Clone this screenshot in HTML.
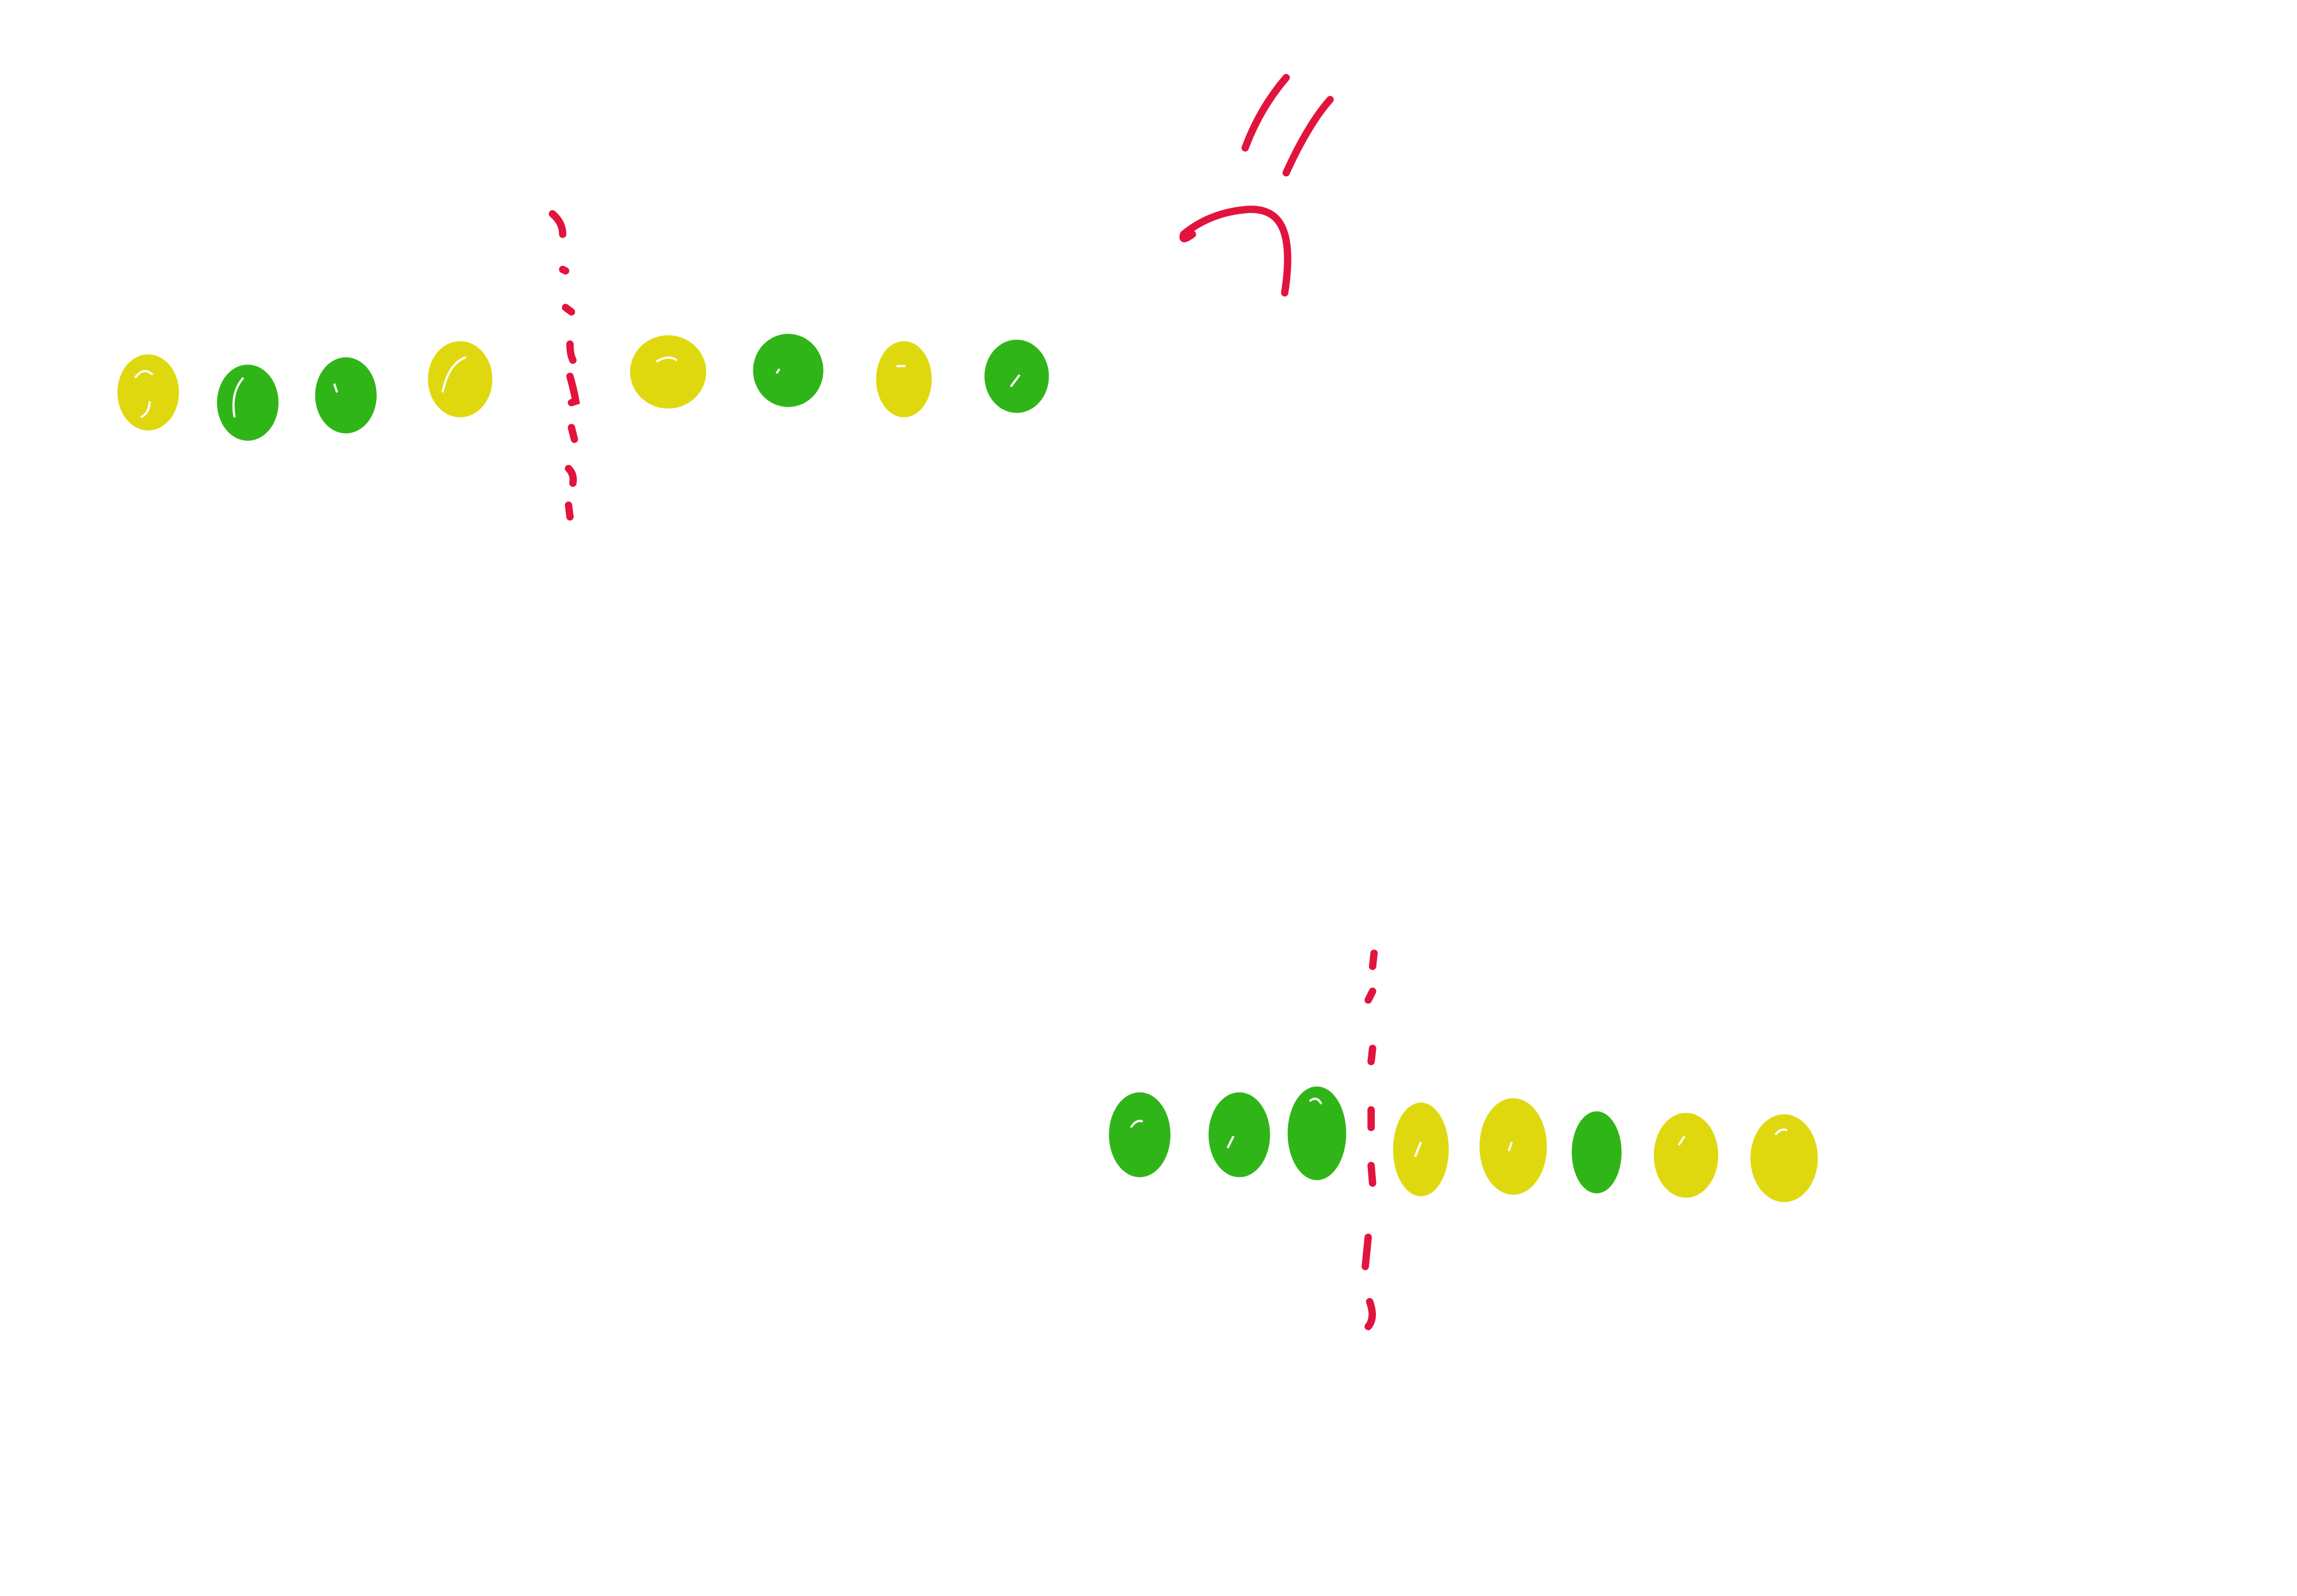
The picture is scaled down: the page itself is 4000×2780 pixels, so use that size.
<!DOCTYPE html>
<html><head><meta charset="utf-8"><style>html,body{margin:0;padding:0;background:#fff}svg{display:block}</style></head>
<body>
<svg width="4000" height="2780" viewBox="0 0 1568 1090" xmlns="http://www.w3.org/2000/svg">
<rect width="1568" height="1090" fill="#fff"/>
<g stroke="#e2143d" stroke-width="5" stroke-linecap="round" fill="none">
<path d="M377 146 Q384 152 384 160"/>
<path d="M384 184 L386 185"/>
<path d="M386 210 L390 213"/>
<path d="M389 235 Q389 242 391 246"/>
<path d="M389 257 Q392 268 393 274 L390 275"/>
<path d="M390 292 L392 300"/>
<path d="M388 320 Q392 324 391 330"/>
<path d="M388 345 L389 353"/>
<path d="M850 101 Q860 74 878 53"/>
<path d="M878 118 Q893 85 908 68"/>
<path d="M814 160 Q806 166 808 160 Q826 145 852 143 Q872 142 877 160 Q881 174 877 200"/>
<path d="M938 651 L937 660"/>
<path d="M937 677 L934 683"/>
<path d="M937 716 L936 725"/>
<path d="M936 758 L936 770"/>
<path d="M936 796 L937 808"/>
<path d="M934 845 L932 865"/>
<path d="M935 889 Q939 900 934 906"/>
</g>
<g>
<ellipse cx="101" cy="268" rx="21" ry="26" fill="#e0d80f"/>
<ellipse cx="169" cy="275" rx="21" ry="26" fill="#30b519"/>
<ellipse cx="236" cy="270" rx="21" ry="26" fill="#30b519"/>
<ellipse cx="314" cy="259" rx="22" ry="26" fill="#e0d80f"/>
<ellipse cx="456" cy="254" rx="26" ry="25" fill="#e0d80f"/>
<ellipse cx="538" cy="253" rx="24" ry="25" fill="#30b519"/>
<ellipse cx="617" cy="259" rx="19" ry="26" fill="#e0d80f"/>
<ellipse cx="694" cy="257" rx="22" ry="25" fill="#30b519"/>
<ellipse cx="778" cy="775" rx="21" ry="29" fill="#30b519"/>
<ellipse cx="846" cy="775" rx="21" ry="29" fill="#30b519"/>
<ellipse cx="899" cy="774" rx="20" ry="32" fill="#30b519"/>
<ellipse cx="970" cy="785" rx="19" ry="32" fill="#e0d80f"/>
<ellipse cx="1033" cy="783" rx="23" ry="33" fill="#e0d80f"/>
<ellipse cx="1090" cy="787" rx="17" ry="28" fill="#30b519"/>
<ellipse cx="1151" cy="789" rx="22" ry="29" fill="#e0d80f"/>
<ellipse cx="1218" cy="791" rx="23" ry="30" fill="#e0d80f"/>
</g>
<g stroke="#fff" stroke-width="1.5" fill="none">
<path d="M92 258 Q98 250 104 256"/><path d="M96 285 Q102 282 102 274"/>
<path d="M160 285 Q157 268 166 258"/><path d="M228 262 L230 268"/>
<path d="M302 268 Q306 248 318 244"/><path d="M448 247 Q456 242 462 246"/>
<path d="M530 255 L532 252"/><path d="M612 250 L618 250"/>
<path d="M690 264 L696 256"/><path d="M772 770 Q776 764 780 766"/>
<path d="M838 784 L842 776"/><path d="M894 752 Q899 748 902 754"/>
<path d="M966 790 L970 780"/><path d="M1030 786 L1032 780"/>
<path d="M1146 782 L1150 776"/><path d="M1212 775 Q1216 770 1220 772"/>
</g>
</svg>
</body></html>
